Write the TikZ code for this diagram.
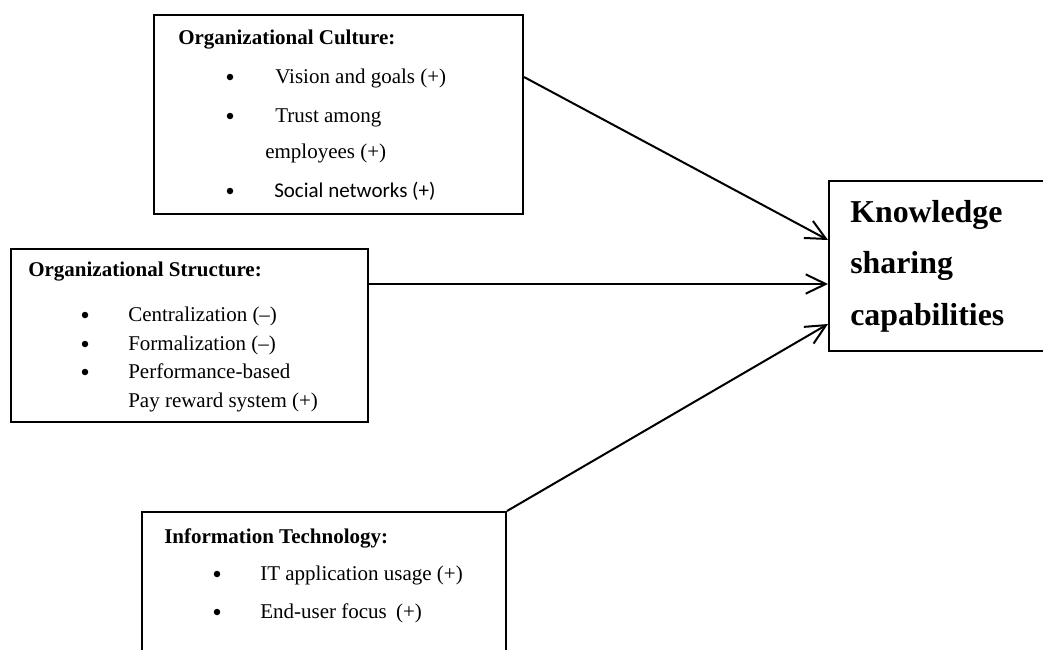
\documentclass[tikz,border=0pt]{standalone}
\usepackage{fontspec}
\setmainfont{Liberation Serif}
\newfontfamily\calibrifont{Carlito}
\usepackage{tikz}
\usetikzlibrary{arrows.meta,positioning,calc}
\definecolor{ink}{RGB}{0,0,0}

\begin{document}
\begin{tikzpicture}[x=0.75pt,y=-0.75pt,
    every node/.style={font=\fontsize{15.75}{19}\selectfont,text=ink},
    boxed/.style 2 args={draw=ink,line width=1.5pt,rectangle,anchor=north west,
      inner sep=0pt,minimum width=#1*0.75pt,minimum height=#2*0.75pt},
    head/.style={anchor=base west,inner sep=0pt,font=\fontsize{15.75}{19}\selectfont\bfseries},
    line/.style={anchor=base west,inner sep=0pt},
    dot/.style={circle,fill=ink,inner sep=0pt,minimum size=6.5*0.75pt},
    big/.style={anchor=base west,inner sep=0pt,font=\fontsize{23.9}{28}\selectfont\bfseries},
    link/.style={-{Straight Barb[length=15pt,width=14.5pt]},line width=1.5pt,draw=ink}
  ]
  \useasboundingbox (0,0) rectangle (1043,650);
  \clip (0,0) rectangle (1043,650);

  % boxes
  \node[boxed={369}{199}] (cult)  at (153,14)  {};
  \node[boxed={357}{173}] (struc) at (10,248)  {};
  \node[boxed={364}{200}] (itech) at (141,511) {};
  \node[boxed={272}{170}] (ks)    at (828,180) {};

  % culture
  \node[head] (culthead) at (178,44) {Organizational Culture:};
  \node[dot] (cd1) at (230,77)  {};
  \node[dot] (cd2) at (230,116) {};
  \node[dot] (cd3) at (230,191) {};
  \node[line] (vision) at (275,83)  {Vision and goals (+)};
  \node[line] (trust)  at (275,122) {Trust among};
  \node[line] (emp)    at (265,158) {employees (+)};
  \node[line,font=\fontsize{15.75}{19}\calibrifont] (social) at (274,197) {Social networks (+)};

  % structure
  \node[head] (struchead) at (28,276) {Organizational Structure:};
  \node[dot] (sd1) at (85,315) {};
  \node[dot] (sd2) at (85,344) {};
  \node[dot] (sd3) at (85,372) {};
  \node[line] (central) at (128,321) {Centralization (–)};
  \node[line] (formal)  at (128,350) {Formalization (–)};
  \node[line] (perf)    at (128,378) {Performance-based};
  \node[line] (pay)     at (128,407) {Pay reward system (+)};

  % information technology
  \node[head] (ithead) at (164,543) {Information Technology:};
  \node[dot] (id1) at (217,574) {};
  \node[dot] (id2) at (217,612) {};
  \node[line] (itapp) at (260,580) {IT application usage (+)};
  \node[line] (enduser) at (260,618) {End-user focus\hspace{3pt} (+)};

  % outcome
  \node[big] (know)  at (850,222) {Knowledge};
  \node[big] (share) at (850,273) {sharing};
  \node[big] (capab) at (850,325) {capabilities};

  % connectors
  \coordinate (cultout)  at ([shift={(0,63)}]cult.north east);
  \coordinate (strucout) at ([shift={(0,36)}]struc.north east);
  \coordinate (ksin1) at ([shift={(0,60)}]ks.north west);
  \coordinate (ksin2) at ([shift={(0,104)}]ks.north west);
  \coordinate (ksin3) at ([shift={(0,144)}]ks.north west);
  \draw[link] (cultout) -- (ksin1);
  \draw[link] (strucout) -- (ksin2);
  \draw[link] (itech.north east) -- (ksin3);
\end{tikzpicture}
\end{document}
